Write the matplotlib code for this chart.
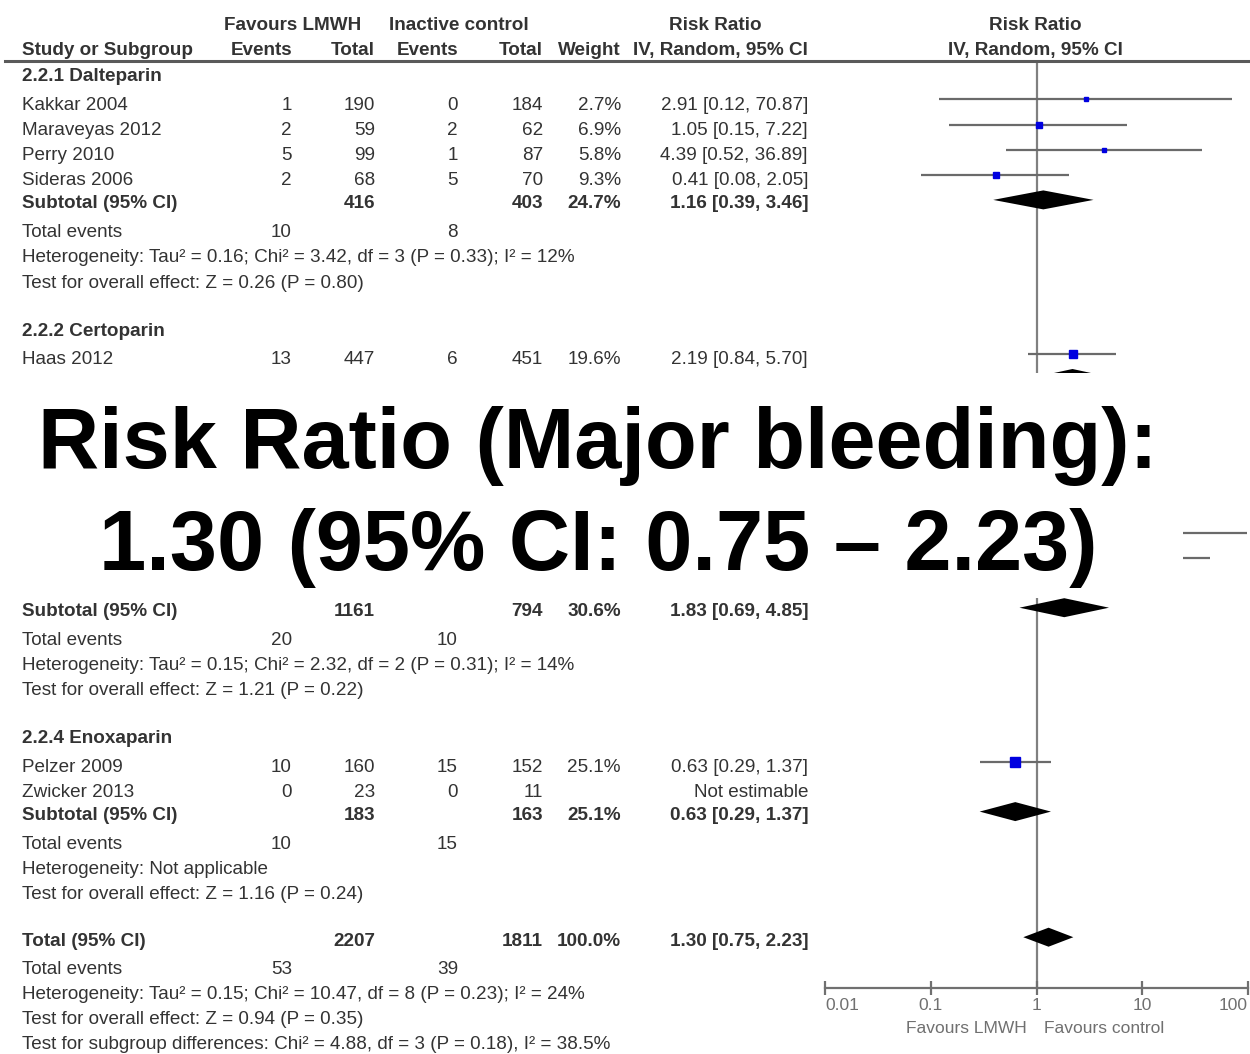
import matplotlib
import matplotlib.pyplot as plt
from matplotlib.transforms import blended_transform_factory, IdentityTransform
from matplotlib.patches import Rectangle
from matplotlib.lines import Line2D

matplotlib.use('Agg')
plt.rcParams['font.family'] = ['Liberation Sans', 'DejaVu Sans']

# ---- data (rows under the white box are estimates) ----
group_titles = ['2.2.1 Dalteparin', '2.2.2 Certoparin', '2.2.3 Nadroparin', '2.2.4 Enoxaparin']
study_names = [['Kakkar 2004', 'Maraveyas 2012', 'Perry 2010', 'Sideras 2006'],
               ['Haas 2012'],
               ['Agnelli 2009', 'Klerk 2005', 'van Doormaal 2011'],
               ['Pelzer 2009', 'Zwicker 2013']]
lmwh_events = [[1, 2, 5, 2], [13], [5, 5, 10], [10, 0]]
lmwh_total = [[190, 59, 99, 68], [447], [769, 148, 244], [160, 23]]
ctrl_events = [[0, 2, 1, 5], [6], [0, 1, 9], [15, 0]]
ctrl_total = [[184, 62, 87, 70], [451], [381, 154, 259], [152, 11]]
weights = [[2.7, 6.9, 5.8, 9.3], [19.6], [5.2, 6.0, 19.4], [25.1, None]]
rr = [[2.91, 1.05, 4.39, 0.41], [2.19], [5.46, 5.20, 1.18], [0.63, None]]
rr_lo = [[0.12, 0.15, 0.52, 0.08], [0.84], [0.30, 0.62, 0.49], [0.29, None]]
rr_hi = [[70.87, 7.22, 36.89, 2.05], [5.70], [98.31, 43.97, 2.85], [1.37, None]]

sub_lmwh_total = [416, 447, 1161, 183]
sub_ctrl_total = [403, 451, 794, 163]
sub_weight = [24.7, 19.6, 30.6, 25.1]
sub_rr = [1.16, 2.19, 1.83, 0.63]
sub_lo = [0.39, 0.84, 0.69, 0.29]
sub_hi = [3.46, 5.70, 4.85, 1.37]
sub_events_lmwh = [10, 13, 20, 10]
sub_events_ctrl = [8, 6, 10, 15]
sub_het = ['Tau\u00b2 = 0.16; Chi\u00b2 = 3.42, df = 3 (P = 0.33); I\u00b2 = 12%',
           'Not applicable',
           'Tau\u00b2 = 0.15; Chi\u00b2 = 2.32, df = 2 (P = 0.31); I\u00b2 = 14%',
           'Not applicable']
sub_z = ['Z = 0.26 (P = 0.80)', 'Z = 1.60 (P = 0.11)', 'Z = 1.21 (P = 0.22)', 'Z = 1.16 (P = 0.24)']

total_n = [2207, 1811]
total_events = [53, 39]
total_ci = [1.30, 0.75, 2.23]
total_het = 'Tau\u00b2 = 0.15; Chi\u00b2 = 10.47, df = 8 (P = 0.23); I\u00b2 = 24%'
total_z = 'Z = 0.94 (P = 0.35)'
subgroup_diff = 'Chi\u00b2 = 4.88, df = 3 (P = 0.18), I\u00b2 = 38.5%'

x_ticks = [0.01, 0.1, 1, 10, 100]
x_ticklabels = ['0.01', '0.1', '1', '10', '100']
headline = ['Risk Ratio (Major bleeding):', '1.30 (95% CI: 0.75 \u2013 2.23)']

W, H = 1250, 1054
BOX_TOP, BOX_BOTTOM, BOX_RIGHT = 373, 598, 1183
TXT = '#333333'
GREY = '#707070'
FS = 13.6


def main():
    fig = plt.figure(figsize=(W / 100, H / 100), dpi=100)
    axf = fig.add_axes([825 / W, 1 - 988 / H, 423 / W, (988 - 61) / H])
    axf.set_xscale('log')
    axf.set_xlim(0.01, 100)
    axf.set_ylim(988, 61)  # y in pixels from top
    for s in ['top', 'left', 'right']:
        axf.spines[s].set_visible(False)
    axf.spines['bottom'].set_color(GREY)
    axf.spines['bottom'].set_linewidth(1.6)
    axf.set_yticks([])
    axf.set_xticks(x_ticks)
    axf.set_xticklabels(x_ticklabels)
    axf.minorticks_off()
    axf.tick_params(axis='x', direction='inout', length=10, width=1.6, color=GREY,
                    labelcolor=GREY, labelsize=12.5, pad=2)
    labs = axf.get_xticklabels()
    labs[0].set_ha('left')
    labs[-1].set_ha('right')
    axf.axvline(1, color='#808080', lw=1.6, zorder=1)

    tr = blended_transform_factory(IdentityTransform(), axf.transData)

    def txt(x, y, s, ha='left', bold=False):
        # rows that sit fully under the white overlay are not written out
        if BOX_TOP < y < BOX_BOTTOM and x < BOX_RIGHT:
            return
        fig.text(x, y + 7, s, transform=tr, ha=ha, va='baseline', fontsize=FS,
                 color=TXT, fontweight='bold' if bold else 'normal')

    def row_numbers(y, vals, bold=False):
        cols = [292, 375, 458, 543, 621, 808]
        for cx, v in zip(cols, vals):
            if v is not None and v != '':
                txt(cx, y, str(v), ha='right', bold=bold)

    # headers
    txt(293, 23, 'Favours LMWH', ha='center', bold=True)
    txt(459, 23, 'Inactive control', ha='center', bold=True)
    txt(715, 23, 'Risk Ratio', ha='center', bold=True)
    txt(1035, 23, 'Risk Ratio', ha='center', bold=True)
    txt(22, 48, 'Study or Subgroup', bold=True)
    row_numbers(48, ['Events', 'Total', 'Events', 'Total', 'Weight', 'IV, Random, 95% CI'], bold=True)
    txt(1035, 48, 'IV, Random, 95% CI', ha='center', bold=True)
    fig.add_artist(Line2D([5, W], [61, 61], transform=tr, color='#5a5a5a', lw=2.2))

    y = 74
    for g, title in enumerate(group_titles):
        txt(22, y, title, bold=True)
        y += 28.5
        for i, name in enumerate(study_names[g]):
            w = weights[g][i]
            if rr[g][i] is None:
                ci = 'Not estimable'
            else:
                ci = f'{rr[g][i]:.2f} [{rr_lo[g][i]:.2f}, {rr_hi[g][i]:.2f}]'
                axf.plot([rr_lo[g][i], rr_hi[g][i]], [y - 3, y - 3], color='#6a6a6a',
                         lw=1.6, zorder=2, solid_capstyle='butt')
                axf.plot([rr[g][i]], [y - 3], marker='s', ms=1.4 * w ** 0.5,
                         color='#0000e0', mec='#0000e0', zorder=3)
            row_numbers(y, [lmwh_events[g][i], lmwh_total[g][i], ctrl_events[g][i],
                            ctrl_total[g][i], f'{w:.1f}%' if w else '', ci])
            txt(22, y, name)
            y += 25.3
        y += 23 - 25.3
        txt(22, y, 'Subtotal (95% CI)', bold=True)
        row_numbers(y, ['', sub_lmwh_total[g], '', sub_ctrl_total[g], f'{sub_weight[g]:.1f}%',
                        f'{sub_rr[g]:.2f} [{sub_lo[g]:.2f}, {sub_hi[g]:.2f}]'], bold=True)
        yd = y - 1.5
        axf.fill([sub_lo[g], sub_rr[g], sub_hi[g], sub_rr[g]], [yd, yd - 9.5, yd, yd + 9.5],
                 color='black', lw=0, zorder=3)
        y += 28.5
        txt(22, y, 'Total events')
        row_numbers(y, [sub_events_lmwh[g], '', sub_events_ctrl[g]])
        y += 25.3
        txt(22, y, 'Heterogeneity: ' + sub_het[g])
        y += 25.3
        txt(22, y, 'Test for overall effect: ' + sub_z[g])
        y += 48

    y -= 1.5
    txt(22, y, 'Total (95% CI)', bold=True)
    row_numbers(y, ['', total_n[0], '', total_n[1], '100.0%',
                    f'{total_ci[0]:.2f} [{total_ci[1]:.2f}, {total_ci[2]:.2f}]'], bold=True)
    yd = y - 1.5
    axf.fill([total_ci[1], total_ci[0], total_ci[2], total_ci[0]], [yd, yd - 9.5, yd, yd + 9.5],
             color='black', lw=0, zorder=3)
    y += 28
    txt(22, y, 'Total events')
    row_numbers(y, [total_events[0], '', total_events[1]])
    y += 25.2
    txt(22, y, 'Heterogeneity: ' + total_het)
    y += 25.2
    txt(22, y, 'Test for overall effect: ' + total_z)
    y += 25.2
    txt(22, y, 'Test for subgroup differences: ' + subgroup_diff)

    # favours labels under the axis
    fig.text(1027, 1027 + 6, 'Favours LMWH', transform=tr, ha='right', va='baseline',
             fontsize=12.5, color=GREY)
    fig.text(1044, 1027 + 6, 'Favours control', transform=tr, ha='left', va='baseline',
             fontsize=12.5, color=GREY)

    # white overlay with the headline
    fig.add_artist(Rectangle((0, 1 - BOX_BOTTOM / H), BOX_RIGHT / W, (BOX_BOTTOM - BOX_TOP) / H,
                             transform=fig.transFigure, facecolor='white',
                             edgecolor='none', zorder=10))
    fig.text(598 / W, 1 - 468 / H, headline[0], ha='center', va='baseline',
             fontsize=61, fontweight='bold', color='black', zorder=11)
    fig.text(598 / W, 1 - 570 / H, headline[1], ha='center', va='baseline',
             fontsize=61, fontweight='bold', color='black', zorder=11)

    fig.savefig('out.png', dpi=100, facecolor='white')
    plt.close(fig)


if __name__ == '__main__':
    main()
